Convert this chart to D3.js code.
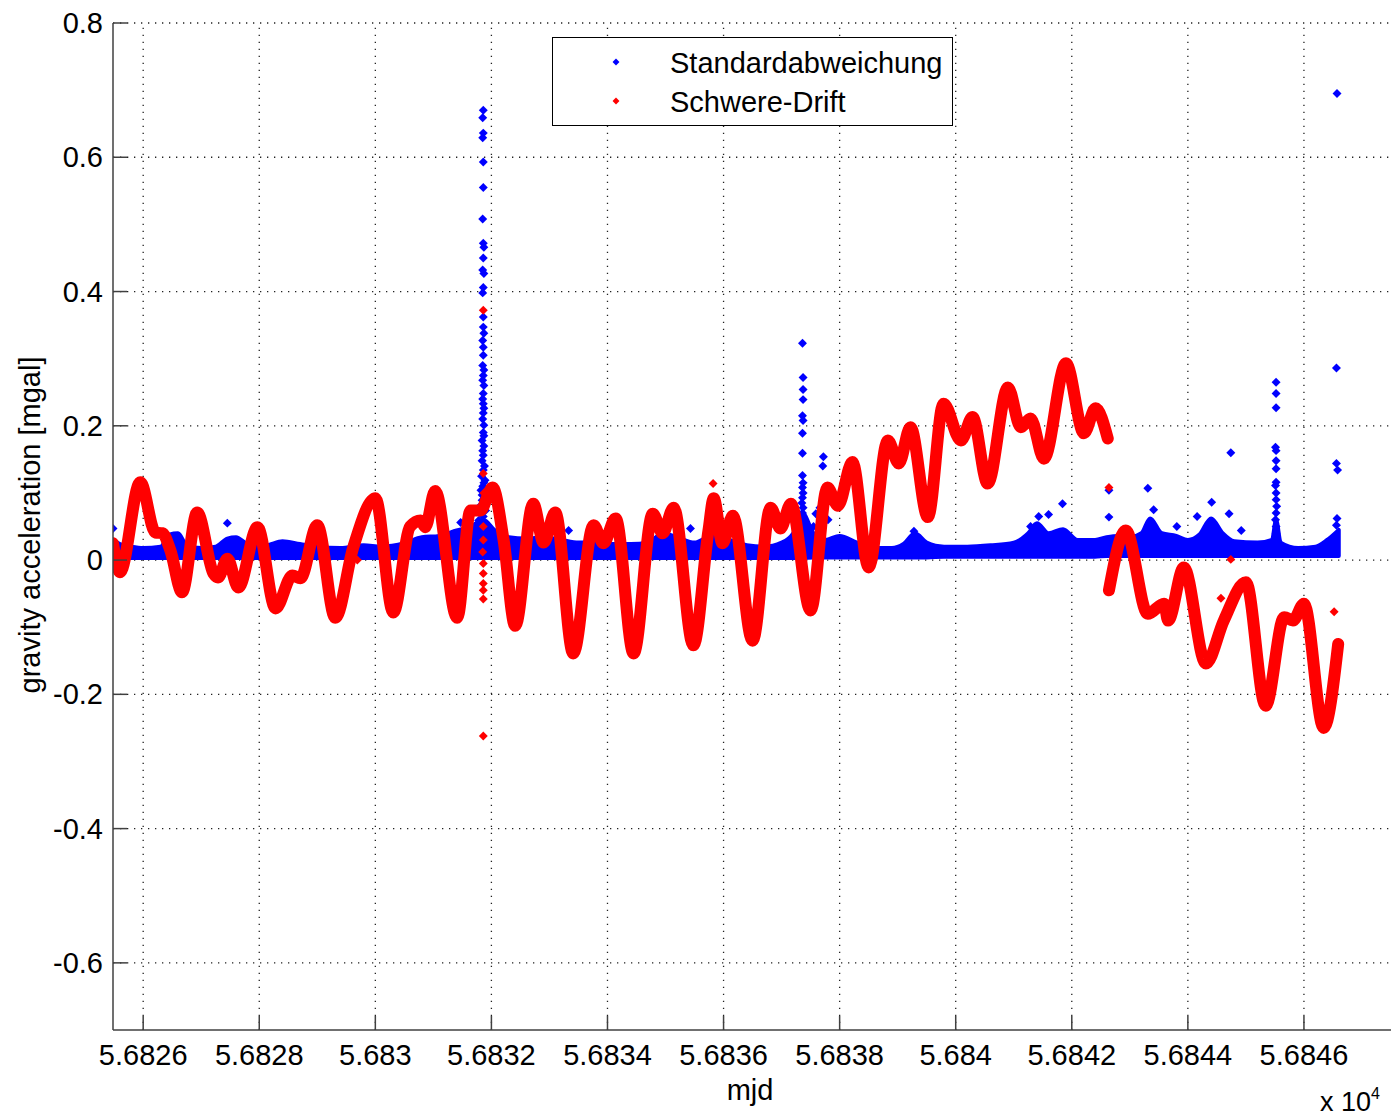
<!DOCTYPE html>
<html>
<head>
<meta charset="utf-8">
<script src="https://cdn.jsdelivr.net/npm/d3@7/dist/d3.min.js"></script>
<style>
  body { margin: 0; background: #fff; }
  svg { display: block; font-family: "Liberation Sans", Arial, sans-serif; }
</style>
</head>
<body>
<svg id="chart" width="1391" height="1119"></svg>
<script>
// gravity drift, red trace: [mjd, mgal]
const redSegment1 = [
  [56825.48, 0.025], [56825.60, -0.018], [56825.95, 0.116], [56826.21, 0.041], [56826.33, 0.040],
  [56826.47, 0.014], [56826.67, -0.048], [56826.93, 0.071], [56827.21, -0.020], [56827.29, -0.026],
  [56827.45, 0.002], [56827.64, -0.041], [56827.97, 0.049], [56828.28, -0.072], [56828.57, -0.023],
  [56828.71, -0.027], [56829.00, 0.052], [56829.31, -0.086], [56829.62, 0.019], [56830.00, 0.092],
  [56830.31, -0.078], [56830.60, 0.050], [56830.78, 0.059], [56830.86, 0.049], [56831.03, 0.103],
  [56831.41, -0.086], [56831.64, 0.074], [56831.81, 0.074], [56832.02, 0.108], [56832.21, 0.030],
  [56832.41, -0.098], [56832.72, 0.084], [56832.90, 0.026], [56833.10, 0.071], [56833.41, -0.139],
  [56833.76, 0.052], [56833.93, 0.025], [56834.14, 0.062], [56834.45, -0.139], [56834.78, 0.069],
  [56834.95, 0.040], [56835.14, 0.078], [56835.48, -0.127], [56835.74, 0.044], [56835.83, 0.092],
  [56835.98, 0.025], [56836.16, 0.066], [56836.50, -0.120], [56836.81, 0.078], [56836.98, 0.047],
  [56837.16, 0.084], [56837.50, -0.075], [56837.79, 0.108], [56837.97, 0.081], [56838.22, 0.146],
  [56838.50, -0.011], [56838.83, 0.178], [56839.02, 0.144], [56839.22, 0.198], [56839.52, 0.064],
  [56839.79, 0.233], [56840.09, 0.178], [56840.29, 0.213], [56840.55, 0.114], [56840.90, 0.257],
  [56841.12, 0.198], [56841.29, 0.211], [56841.52, 0.151], [56841.90, 0.293], [56842.21, 0.189],
  [56842.41, 0.226], [56842.62, 0.181]
];
const redSegment2 = [
  [56842.64, -0.045], [56842.93, 0.044], [56843.31, -0.080], [56843.59, -0.065], [56843.66, -0.090],
  [56843.93, -0.011], [56844.31, -0.154], [56844.62, -0.090], [56845.00, -0.033], [56845.34, -0.217],
  [56845.66, -0.085], [56845.81, -0.090], [56846.00, -0.065], [56846.34, -0.250], [56846.59, -0.125]
];
const redOutliers = [
  [56831.86, 0.372], [56831.86, -0.262], [56831.86, 0.129], [56831.87, 0.100], [56831.86, 0.075],
  [56831.86, 0.050], [56831.86, 0.030], [56831.85, 0.012], [56831.86, -0.005], [56831.86, -0.020],
  [56831.86, -0.035], [56831.86, -0.045], [56831.86, -0.058], [56835.82, 0.114], [56842.64, 0.108],
  [56844.57, -0.057], [56844.74, 0.001], [56846.52, -0.077], [56829.69, 0.000]
];

// standard deviation, blue: dense band [mjd, low, high] + isolated points [mjd, mgal]
const blueBand = [
  [56825.48, 0.003, 0.030], [56825.60, 0.003, 0.024], [56825.80, 0.003, 0.020], [56826.00, 0.003, 0.018],
  [56826.30, 0.003, 0.020], [56826.45, 0.003, 0.038], [56826.60, 0.003, 0.040], [56826.75, 0.003, 0.022],
  [56827.00, 0.003, 0.018], [56827.25, 0.003, 0.020], [56827.45, 0.003, 0.032], [56827.60, 0.003, 0.034],
  [56827.80, 0.003, 0.024], [56828.10, 0.003, 0.022], [56828.40, 0.003, 0.028], [56828.70, 0.003, 0.024],
  [56829.00, 0.003, 0.020], [56829.40, 0.003, 0.018], [56829.80, 0.003, 0.022], [56830.10, 0.003, 0.020],
  [56830.50, 0.003, 0.025], [56830.80, 0.003, 0.034], [56831.10, 0.003, 0.036], [56831.40, 0.003, 0.044],
  [56831.65, 0.003, 0.050], [56831.86, 0.003, 0.060], [56832.05, 0.003, 0.045], [56832.30, 0.003, 0.034],
  [56832.60, 0.003, 0.032], [56832.90, 0.003, 0.034], [56833.20, 0.003, 0.030], [56833.50, 0.003, 0.026],
  [56833.80, 0.003, 0.026], [56834.10, 0.003, 0.024], [56834.40, 0.003, 0.024], [56834.70, 0.003, 0.026],
  [56834.95, 0.003, 0.040], [56835.20, 0.003, 0.034], [56835.50, 0.003, 0.026], [56835.80, 0.003, 0.036],
  [56836.10, 0.003, 0.030], [56836.40, 0.003, 0.022], [56836.70, 0.003, 0.020], [56837.00, 0.003, 0.026],
  [56837.20, 0.003, 0.040], [56837.36, 0.003, 0.070], [56837.55, 0.004, 0.040], [56837.75, 0.004, 0.030],
  [56838.00, 0.004, 0.036], [56838.30, 0.004, 0.026], [56838.60, 0.004, 0.018], [56838.90, 0.004, 0.018],
  [56839.10, 0.004, 0.024], [56839.30, 0.004, 0.040], [56839.50, 0.004, 0.026], [56839.80, 0.005, 0.020],
  [56840.20, 0.005, 0.020], [56840.60, 0.005, 0.022], [56841.00, 0.005, 0.026], [56841.25, 0.005, 0.040],
  [56841.40, 0.005, 0.055], [56841.60, 0.005, 0.040], [56841.85, 0.005, 0.046], [56842.10, 0.005, 0.030],
  [56842.40, 0.005, 0.030], [56842.60, 0.006, 0.034], [56842.80, 0.006, 0.036], [56843.00, 0.006, 0.034],
  [56843.20, 0.006, 0.040], [56843.35, 0.006, 0.062], [56843.55, 0.006, 0.040], [56843.80, 0.006, 0.036],
  [56844.00, 0.006, 0.030], [56844.20, 0.006, 0.038], [56844.40, 0.006, 0.062], [56844.60, 0.006, 0.040],
  [56844.80, 0.006, 0.028], [56845.20, 0.006, 0.026], [56845.45, 0.006, 0.030], [56845.52, 0.006, 0.060],
  [56845.60, 0.006, 0.026], [56845.90, 0.006, 0.018], [56846.20, 0.006, 0.020], [56846.40, 0.006, 0.030],
  [56846.60, 0.006, 0.045]
];
const blueSpikes = [
  [56831.86, 0.670], [56831.85, 0.659], [56831.86, 0.636], [56831.85, 0.629], [56831.86, 0.593],
  [56831.86, 0.555], [56831.85, 0.508], [56831.86, 0.472], [56831.87, 0.466], [56831.86, 0.450],
  [56831.85, 0.432], [56831.87, 0.427], [56831.86, 0.406], [56831.85, 0.398], [56831.86, 0.362],
  [56831.86, 0.347], [56831.87, 0.338], [56831.85, 0.327], [56831.86, 0.317], [56831.86, 0.305],
  [56831.85, 0.290], [56831.87, 0.283], [56831.86, 0.275], [56831.85, 0.268], [56831.87, 0.260],
  [56831.86, 0.248], [56831.85, 0.240], [56831.86, 0.233], [56831.87, 0.226], [56831.86, 0.219],
  [56831.85, 0.210], [56831.87, 0.201], [56831.86, 0.190], [56831.84, 0.178], [56831.87, 0.170],
  [56831.86, 0.156], [56831.84, 0.148], [56831.88, 0.140], [56831.86, 0.134], [56831.83, 0.125],
  [56831.89, 0.119], [56831.85, 0.110], [56831.82, 0.104], [56831.88, 0.095], [56831.84, 0.089],
  [56831.80, 0.080], [56831.90, 0.074], [56831.86, 0.065], [56831.78, 0.059], [56831.92, 0.052],
  [56831.87, 0.185], [56831.85, 0.163], [56831.87, 0.115], [56831.84, 0.097], [56831.89, 0.084],
  [56837.36, 0.323], [56837.37, 0.272], [56837.37, 0.254], [56837.37, 0.239], [56837.36, 0.215],
  [56837.37, 0.208], [56837.36, 0.189], [56837.36, 0.159], [56837.36, 0.126], [56837.37, 0.115],
  [56837.36, 0.108], [56837.37, 0.100], [56837.36, 0.093], [56837.35, 0.085], [56837.37, 0.078],
  [56837.36, 0.070], [56837.35, 0.062],
  [56837.72, 0.154], [56837.71, 0.140], [56837.59, 0.069], [56837.66, 0.078], [56837.55, 0.050],
  [56837.80, 0.060],
  [56845.52, 0.265], [56845.52, 0.248], [56845.52, 0.227], [56845.51, 0.168], [56845.52, 0.163],
  [56845.52, 0.148], [56845.52, 0.136], [56845.52, 0.116], [56845.51, 0.111], [56845.52, 0.100],
  [56845.52, 0.090], [56845.53, 0.080], [56845.52, 0.070], [56845.51, 0.060], [56845.52, 0.050],
  [56845.52, 0.040],
  [56846.57, 0.695], [56846.56, 0.286], [56846.56, 0.144], [56846.58, 0.134], [56846.57, 0.062],
  [56846.56, 0.052],
  [56825.48, 0.047], [56827.45, 0.055], [56831.47, 0.056], [56833.33, 0.044], [56835.43, 0.047],
  [56839.28, 0.043], [56841.29, 0.050], [56841.43, 0.065], [56841.60, 0.068], [56841.84, 0.084],
  [56842.64, 0.104], [56842.64, 0.064], [56843.31, 0.107], [56843.41, 0.075], [56843.81, 0.050],
  [56844.16, 0.065], [56844.41, 0.086], [56844.71, 0.069], [56844.74, 0.160], [56844.92, 0.044]
];

const xTicks = d3.range(56826, 56847, 2);
const yTicks = [-0.6, -0.4, -0.2, 0, 0.2, 0.4, 0.6, 0.8];
const legendLabels = ["Standardabweichung", "Schwere-Drift"];

const svg = d3.select("#chart");
const margin = { top: 23, right: 0, bottom: 89, left: 113 };
const width = +svg.attr("width");
const height = +svg.attr("height");
const fontSize = 29;

const x = d3.scaleLinear()
  .domain([56825.48, 56847.5])
  .range([margin.left, width - margin.right]);
const y = d3.scaleLinear()
  .domain([-0.7, 0.8])
  .range([height - margin.bottom, margin.top]);

svg.append("clipPath").attr("id", "plot-clip")
  .append("rect")
  .attr("x", margin.left).attr("y", margin.top)
  .attr("width", width - margin.left - margin.right)
  .attr("height", height - margin.top - margin.bottom);

// dotted grid
const grid = svg.append("g").attr("stroke", "#222").attr("stroke-width", 1.3)
  .attr("stroke-dasharray", "1.3,5.7");
grid.selectAll(".gx").data(xTicks).join("line")
  .attr("x1", d => x(d)).attr("x2", d => x(d))
  .attr("y1", y.range()[0]).attr("y2", y.range()[1]);
grid.selectAll(".gy").data(yTicks).join("line")
  .attr("y1", d => y(d)).attr("y2", d => y(d))
  .attr("x1", x.range()[0]).attr("x2", x.range()[1]);

const plot = svg.append("g").attr("clip-path", "url(#plot-clip)");

const marker = d3.symbol(d3.symbolSquare, 40);

// blue band
plot.append("path")
  .datum(blueBand)
  .attr("d", d3.area()
    .x(d => x(d[0]))
    .y0(d => y(d[1]))
    .y1(d => y(d[2]))
    .curve(d3.curveMonotoneX))
  .attr("fill", "#0000ff")
  .attr("stroke", "#0000ff")
  .attr("stroke-width", 4)
  .attr("stroke-linejoin", "round");

plot.append("g").selectAll("path")
  .data(blueSpikes)
  .join("path")
  .attr("d", marker)
  .attr("transform", d => `translate(${x(d[0])},${y(d[1])}) rotate(45)`)
  .attr("fill", "#0000ff");

// red drift
const redLine = d3.line()
  .x(d => x(d[0]))
  .y(d => y(d[1]))
  .curve(d3.curveMonotoneX);

plot.selectAll(".red").data([redSegment1, redSegment2]).join("path")
  .attr("d", redLine)
  .attr("fill", "none")
  .attr("stroke", "#ff0000")
  .attr("stroke-width", 12)
  .attr("stroke-linejoin", "round")
  .attr("stroke-linecap", "round");

plot.append("g").selectAll("path")
  .data(redOutliers)
  .join("path")
  .attr("d", marker)
  .attr("transform", d => `translate(${x(d[0])},${y(d[1])}) rotate(45)`)
  .attr("fill", "#ff0000");

// axes lines and inward ticks
const axisColor = "#404040";
const ax = svg.append("g").attr("stroke", axisColor).attr("stroke-width", 1.5);
ax.append("line")
  .attr("x1", x.range()[0]).attr("x2", x.range()[1])
  .attr("y1", y.range()[0]).attr("y2", y.range()[0]);
ax.append("line")
  .attr("x1", x.range()[0]).attr("x2", x.range()[0])
  .attr("y1", y.range()[0]).attr("y2", y.range()[1]);
ax.selectAll(".tx").data(xTicks).join("line")
  .attr("x1", d => x(d)).attr("x2", d => x(d))
  .attr("y1", y.range()[0]).attr("y2", y.range()[0] - 14);
ax.selectAll(".ty").data(yTicks).join("line")
  .attr("y1", d => y(d)).attr("y2", d => y(d))
  .attr("x1", x.range()[0]).attr("x2", x.range()[0] + 14);

// tick labels
svg.append("g").selectAll("text").data(xTicks).join("text")
  .attr("x", d => x(d))
  .attr("y", y.range()[0] + 35)
  .attr("text-anchor", "middle")
  .attr("font-size", fontSize)
  .text(d => String(+(d / 1e4).toFixed(4)));

svg.append("g").selectAll("text").data(yTicks).join("text")
  .attr("x", margin.left - 10)
  .attr("y", d => y(d) + 10)
  .attr("text-anchor", "end")
  .attr("font-size", fontSize)
  .text(d => String(+d.toFixed(1)));

// axis titles
svg.append("text")
  .attr("x", 750).attr("y", 1100)
  .attr("text-anchor", "middle")
  .attr("font-size", fontSize)
  .text("mjd");

const expo = svg.append("text")
  .attr("x", 1320).attr("y", 1111)
  .attr("font-size", 27);
expo.append("tspan").text("x 10");
expo.append("tspan").attr("font-size", 16).attr("dy", -12).text("4");

svg.append("text")
  .attr("transform", "translate(40,525) rotate(-90)")
  .attr("text-anchor", "middle")
  .attr("font-size", fontSize)
  .text("gravity acceleration [mgal]");

// legend
const legend = svg.append("g");
legend.append("rect")
  .attr("x", 552.5).attr("y", 37.5)
  .attr("width", 400).attr("height", 88)
  .attr("fill", "#fff").attr("stroke", "#000").attr("stroke-width", 1);
legend.selectAll(".lm").data(legendLabels).join("path")
  .attr("d", d3.symbol(d3.symbolSquare, 24))
  .attr("transform", (d, i) => `translate(616,${62 + i * 39}) rotate(45)`)
  .attr("fill", (d, i) => i === 0 ? "#0000ff" : "#ff0000");
legend.selectAll("text").data(legendLabels).join("text")
  .attr("x", 670)
  .attr("y", (d, i) => 73 + i * 39)
  .attr("font-size", fontSize)
  .text(d => d);
</script>
</body>
</html>
